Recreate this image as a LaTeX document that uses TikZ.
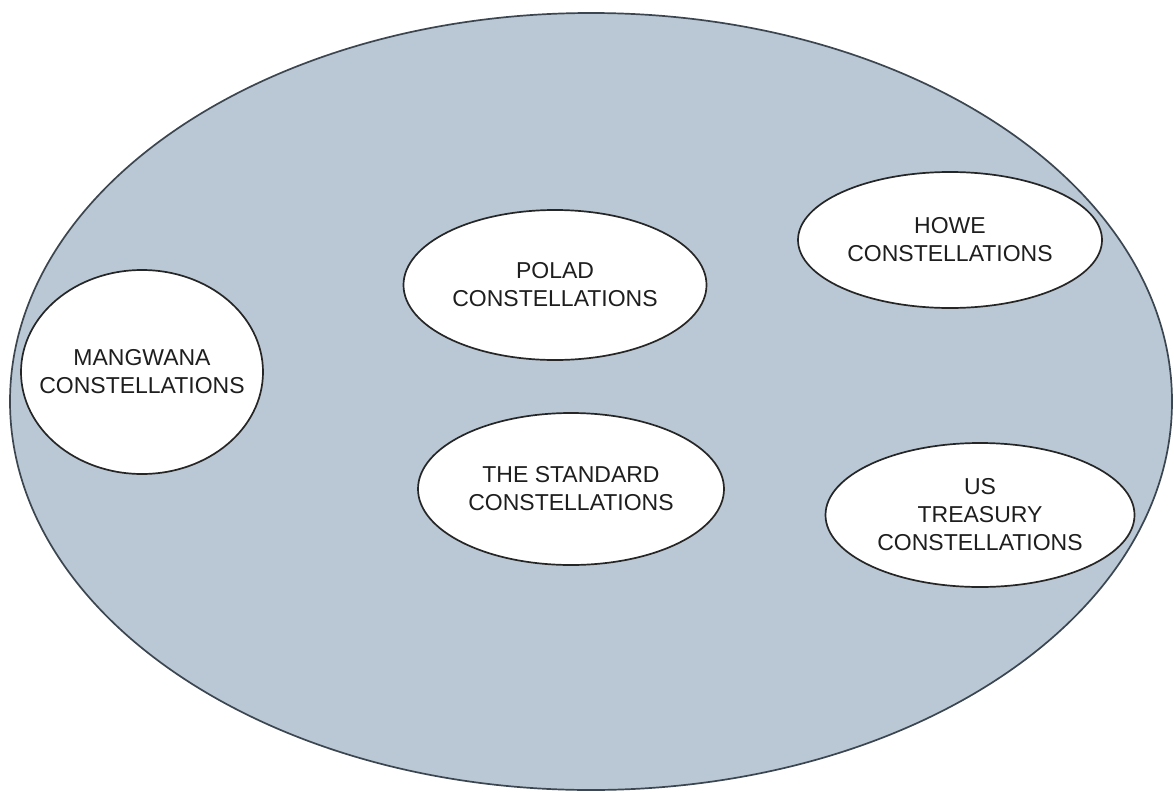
\documentclass[tikz,border=0pt]{standalone}
\usepackage{fontspec}
\setmainfont{Liberation Sans}
\usetikzlibrary{shapes.geometric}
\definecolor{bigfill}{HTML}{B9C8D4}
\definecolor{bigline}{HTML}{3C4650}
\definecolor{txt}{HTML}{1E1E1E}
\tikzset{
  x=1pt, y=-1pt,
  inner/.style={ellipse, draw=black!85, line width=1.7pt, fill=white, inner sep=0pt},
  lbl/.style={text=txt, align=center, inner sep=0pt, font=\fontsize{23}{28}\selectfont},
}
\begin{document}
\begin{tikzpicture}
\useasboundingbox (0,0) rectangle (1174,792);
\fill[white] (0,0) rectangle (1174,792);
\node[ellipse, draw=bigline, line width=1.7pt, fill=bigfill, minimum width=1162pt, minimum height=777pt, inner sep=0pt] (outer) at (591,401.5) {};
\node[inner, minimum width=242pt, minimum height=204pt] (mangwana) at (142,372) {};
\node[lbl] (mangwanat) at (mangwana) {MANGWANA\\CONSTELLATIONS};
\node[inner, minimum width=303pt, minimum height=150pt] (polad) at (555,285) {};
\node[lbl] (poladt) at (polad) {POLAD\\CONSTELLATIONS};
\node[inner, minimum width=304pt, minimum height=136pt] (howe) at (950,240) {};
\node[lbl] (howet) at (howe) {HOWE\\CONSTELLATIONS};
\node[inner, minimum width=306pt, minimum height=152pt] (standard) at (571,489) {};
\node[lbl] (standardt) at (standard) {THE STANDARD\\CONSTELLATIONS};
\node[inner, minimum width=309pt, minimum height=144pt] (treasury) at (980,515) {};
\node[lbl] (treasuryt) at (treasury) {US\\TREASURY\\CONSTELLATIONS};
\end{tikzpicture}
\end{document}
